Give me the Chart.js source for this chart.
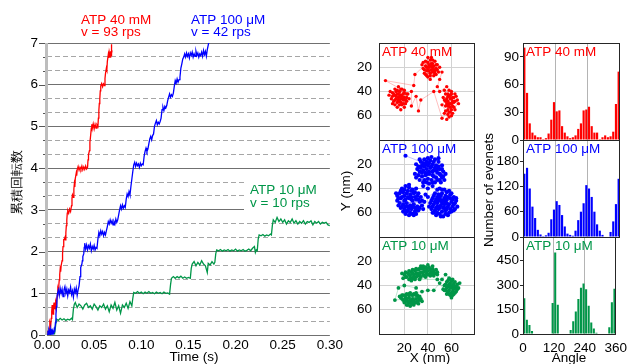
<!DOCTYPE html>
<html>
<head>
<meta charset="utf-8">
<script src="https://cdn.jsdelivr.net/npm/chart.js@4.4.1/dist/chart.umd.min.js"></script>
<style>
  html, body { margin: 0; padding: 0; background: #fff; }
  body { width: 633px; height: 364px; position: relative; overflow: hidden; }
  canvas { position: absolute; top: 0; }
</style>
</head>
<body>
<canvas id="trace" style="left:0" width="345" height="364"></canvas>
<canvas id="xy1" style="left:336px" width="144" height="364"></canvas>
<canvas id="xy2" style="left:336px" width="144" height="364"></canvas>
<canvas id="xy3" style="left:336px" width="144" height="364"></canvas>
<canvas id="h1" style="left:480px" width="153" height="364"></canvas>
<canvas id="h2" style="left:480px" width="153" height="364"></canvas>
<canvas id="h3" style="left:480px" width="153" height="364"></canvas>
<script>
const FONT = "'Liberation Sans', Arial, sans-serif";
const RED = '#ff0000', BLUE = '#0000ff', GREEN = 'rgb(0,150,72)';
Chart.defaults.font.family = FONT;
Chart.defaults.color = '#000';

// --- tick labels
const timeTicks = [0, 0.05, 0.10, 0.15, 0.20, 0.25, 0.30];
const turnTicks = [0, 1, 2, 3, 4, 5, 6, 7];
const nmTicks = [20, 40, 60];
const angleTicks = [0, 120, 240, 360];
const countTicks40mM = [0, 30, 60, 90];
const countTicks100uM = [0, 60, 120, 180];
const countTicks10uM = [0, 150, 300, 450];

// --- cumulative rotations [time s, turns]
const red40mM = [
  [0,0],[0.001,0.06],[0.002,0.02],[0.0025,0.16],[0.003,0.31],[0.004,0.24],[0.0045,0.4],[0.005,0.56],[0.0055,0.72],[0.006,0.6],
  [0.0065,0.5],[0.007,0.68],[0.0075,0.78],[0.008,0.62],[0.0085,0.7],[0.009,0.64],[0.0095,0.8],[0.010,0.74],[0.011,0.96],[0.0115,1.1],
  [0.012,1.05],[0.0125,1.18],[0.013,1.32],[0.0135,1.45],[0.014,1.58],[0.0145,1.52],[0.015,1.66],[0.016,1.78],[0.0165,1.95],[0.017,2.12],
  [0.0175,2.3],[0.018,2.26],[0.019,2.34],[0.0195,2.28],[0.020,2.45],[0.0205,2.62],[0.021,2.75],[0.0215,2.92],[0.022,2.98],[0.023,2.92],
  [0.024,3.02],[0.025,2.96],[0.026,3.1],[0.0265,3.28],[0.027,3.36],[0.028,3.3],[0.0285,3.5],[0.029,3.62],[0.0295,3.55],[0.030,3.75],
  [0.031,3.88],[0.0315,3.82],[0.032,3.96],[0.033,4.04],[0.034,3.95],[0.035,4.02],[0.036,3.97],[0.037,4.05],[0.038,3.96],[0.039,4.03],
  [0.040,3.97],[0.041,4.05],[0.042,3.98],[0.043,4.02],[0.0435,4.2],[0.044,4.32],[0.045,4.42],[0.0455,4.62],[0.046,4.72],[0.047,4.96],
  [0.0475,5.05],[0.048,4.95],[0.049,5.06],[0.050,4.94],[0.051,5.05],[0.052,4.96],[0.053,5.04],[0.054,5.0],[0.0545,5.2],[0.055,5.38],
  [0.0555,5.55],[0.056,5.66],[0.0565,5.85],[0.057,5.97],[0.058,6.03],[0.059,5.95],[0.060,6.02],[0.061,5.98],[0.0615,6.15],[0.062,6.26],
  [0.063,6.4],[0.0635,6.36],[0.064,6.56],[0.065,6.72],[0.0655,6.64],[0.066,6.78],[0.067,6.66],[0.0675,6.8],[0.068,6.7],[0.0683,6.97],
  [0.0686,6.75],[0.069,6.82]
];
const blue100uM = [
  [0,0],[0.001,0.1],[0.0015,0.02],[0.002,0.12],[0.003,0.04],[0.0035,0.14],[0.004,0.03],[0.005,0.11],[0.0055,0.02],[0.006,0.1],
  [0.007,0.05],[0.0075,0.12],[0.008,0.06],[0.009,0.3],[0.0095,0.5],[0.010,0.68],[0.0105,0.85],[0.011,0.98],[0.012,1.08],[0.013,0.95],
  [0.014,1.12],[0.015,1.0],[0.016,1.1],[0.017,0.92],[0.018,1.08],[0.019,1.16],[0.020,1.0],[0.021,1.1],[0.022,0.94],[0.023,1.08],
  [0.024,1.02],[0.025,1.15],[0.026,0.97],[0.027,1.06],[0.028,0.91],[0.029,1.1],[0.030,1.02],[0.031,1.13],[0.032,0.95],[0.033,1.08],
  [0.034,1.18],[0.035,1.4],[0.0355,1.55],[0.036,1.62],[0.037,1.7],[0.0375,1.78],[0.038,1.88],[0.039,1.95],[0.0395,2.1],[0.040,2.2],
  [0.041,2.06],[0.042,2.16],[0.043,2.04],[0.044,2.14],[0.045,2.08],[0.046,2.18],[0.047,2.02],[0.048,2.12],[0.049,2.06],[0.050,2.15],
  [0.051,2.04],[0.052,2.1],[0.053,2.08],[0.054,2.3],[0.055,2.46],[0.056,2.38],[0.057,2.5],[0.058,2.42],[0.059,2.48],[0.060,2.38],
  [0.061,2.46],[0.062,2.4],[0.063,2.5],[0.064,2.6],[0.065,2.72],[0.066,2.66],[0.067,2.76],[0.068,2.68],[0.069,2.74],[0.070,2.64],
  [0.071,2.72],[0.072,2.66],[0.073,2.78],[0.074,2.7],[0.075,2.76],[0.076,2.88],[0.077,3.0],[0.078,3.1],[0.079,3.02],[0.080,3.12],
  [0.081,3.04],[0.082,3.1],[0.083,3.06],[0.084,3.25],[0.085,3.38],[0.086,3.32],[0.087,3.44],[0.088,3.36],[0.089,3.56],[0.090,3.74],
  [0.091,3.92],[0.092,4.08],[0.093,4.14],[0.094,4.04],[0.095,4.12],[0.096,4.06],[0.097,4.1],[0.098,4.02],[0.099,4.12],[0.100,4.06],
  [0.101,4.1],[0.102,4.08],[0.103,4.28],[0.104,4.4],[0.105,4.48],[0.106,4.4],[0.107,4.46],[0.108,4.58],[0.109,4.7],[0.110,4.76],
  [0.111,4.68],[0.112,4.78],[0.113,4.82],[0.114,5.0],[0.115,5.08],[0.116,5.14],[0.117,5.04],[0.118,5.1],[0.119,5.06],[0.120,5.12],
  [0.121,5.2],[0.122,5.4],[0.123,5.46],[0.124,5.38],[0.125,5.48],[0.126,5.44],[0.127,5.5],[0.128,5.62],[0.129,5.7],[0.130,5.78],
  [0.131,5.7],[0.132,5.76],[0.133,5.72],[0.134,5.8],[0.135,5.96],[0.136,6.1],[0.137,6.04],[0.138,6.14],[0.139,6.06],[0.140,6.12],
  [0.141,6.18],[0.142,6.4],[0.143,6.5],[0.144,6.62],[0.145,6.66],[0.146,6.74],[0.147,6.66],[0.148,6.76],[0.149,6.68],[0.150,6.74],
  [0.151,6.64],[0.152,6.76],[0.153,6.7],[0.154,6.78],[0.155,6.66],[0.156,6.74],[0.157,6.68],[0.158,6.8],[0.159,6.7],[0.160,6.76],
  [0.161,6.66],[0.162,6.74],[0.163,6.7],[0.164,6.78],[0.165,6.68],[0.166,6.82],[0.167,6.72],[0.168,6.8],[0.169,6.68],[0.170,6.84],
  [0.171,6.95],[0.172,7.05],[0.173,7.1]
];
const green10uM = [
  [0,0],[0.002,0.04],[0.004,0.01],[0.006,0.05],[0.008,0.03],[0.009,0.2],[0.010,0.38],[0.012,0.35],[0.014,0.4],[0.016,0.36],
  [0.018,0.39],[0.020,0.35],[0.022,0.38],[0.024,0.36],[0.026,0.4],[0.027,0.37],[0.028,0.62],[0.029,0.74],[0.030,0.78],[0.032,0.66],
  [0.034,0.74],[0.036,0.7],[0.038,0.62],[0.040,0.72],[0.042,0.76],[0.044,0.66],[0.046,0.7],[0.048,0.62],[0.050,0.74],[0.052,0.68],
  [0.054,0.6],[0.056,0.7],[0.058,0.66],[0.060,0.74],[0.062,0.62],[0.064,0.7],[0.066,0.56],[0.068,0.72],[0.070,0.64],[0.072,0.78],
  [0.074,0.6],[0.076,0.7],[0.078,0.52],[0.080,0.72],[0.082,0.66],[0.084,0.76],[0.086,0.64],[0.088,0.8],[0.090,0.7],[0.091,0.88],
  [0.092,1.02],[0.094,1.0],[0.096,1.04],[0.098,1.0],[0.100,1.03],[0.102,0.99],[0.104,1.03],[0.106,1.0],[0.108,1.04],[0.110,1.0],
  [0.112,1.02],[0.114,0.99],[0.116,1.03],[0.118,1.0],[0.120,1.02],[0.122,0.99],[0.124,1.03],[0.126,1.0],[0.128,1.01],[0.130,0.98],
  [0.131,1.2],[0.132,1.36],[0.134,1.4],[0.136,1.36],[0.138,1.4],[0.140,1.37],[0.142,1.41],[0.144,1.36],[0.146,1.39],[0.148,1.36],
  [0.150,1.38],[0.152,1.36],[0.153,1.6],[0.154,1.7],[0.156,1.76],[0.158,1.66],[0.160,1.74],[0.162,1.68],[0.164,1.78],[0.166,1.7],
  [0.168,1.66],[0.170,1.5],[0.171,1.72],[0.173,1.68],[0.175,1.76],[0.177,1.7],[0.178,1.74],[0.179,1.95],[0.180,2.04],[0.182,2.02],
  [0.184,2.05],[0.186,2.01],[0.188,2.04],[0.190,2.02],[0.192,2.05],[0.194,2.01],[0.196,2.04],[0.198,2.02],[0.200,2.06],[0.202,2.01],
  [0.204,2.04],[0.206,2.02],[0.208,2.05],[0.210,2.01],[0.212,2.03],[0.214,2.06],[0.216,2.02],[0.218,2.08],[0.220,2.12],[0.221,1.98],
  [0.222,2.04],[0.223,2.02],[0.224,2.3],[0.225,2.4],[0.227,2.38],[0.229,2.41],[0.231,2.37],[0.233,2.4],[0.235,2.38],[0.237,2.42],
  [0.238,2.4],[0.239,2.62],[0.240,2.76],[0.242,2.7],[0.244,2.82],[0.246,2.72],[0.248,2.78],[0.250,2.7],[0.252,2.76],[0.254,2.66],
  [0.256,2.74],[0.258,2.7],[0.260,2.78],[0.262,2.68],[0.264,2.74],[0.266,2.66],[0.268,2.72],[0.270,2.68],[0.272,2.74],[0.274,2.66],
  [0.276,2.72],[0.278,2.7],[0.280,2.74],[0.282,2.64],[0.284,2.72],[0.286,2.68],[0.288,2.72],[0.290,2.66],[0.292,2.7],[0.294,2.68],
  [0.296,2.7],[0.298,2.64],[0.300,2.62]
];

// --- bead positions [X nm, Y nm]
const xy40mM = [
  [8,40],[10,44],[12,38],[14,42],[16,40],[18,44],[20,41],[22,45],[11,48],[13,46],[15,47],[17,49],[19,47],[21,50],[9,46],[12,51],
  [14,53],[16,44],[18,38],[20,53],[23,42],[15,36],[17,43],[13,44],[19,50],[22,48],[10,41],[16,51],[24,46],[12,47],[18,46],[14,39],
  [20,45],[7,43],[17,55],[11,42],[13,40],[15,42],[17,46],[19,42],[21,47],[14,49],[16,48],[18,51],[10,50],[20,39],[12,43],[22,42],
  [15,45],[17,38],[4,31],[28,35],[29,26],
  [42,14],[40,16],[44,17],[46,15],[38,19],[41,20],[43,22],[45,19],[47,21],[39,23],[42,25],[44,24],[36,21],[48,18],[40,28],[43,12],
  [45,27],[37,25],[41,18],[49,24],[46,23],[38,15],[44,20],[42,30],[50,20],[35,18],[47,26],[40,22],[43,17],[39,27],[41,23],[43,19],
  [45,22],[39,20],[37,22],[44,14],[47,18],[42,27],[46,25],[40,12],[38,26],[48,22],[36,16],[52,24],[50,30],[48,36],[50,40],
  [56,36],[58,39],[60,42],[55,42],[57,44],[59,46],[61,45],[63,48],[54,47],[56,50],[58,52],[60,50],[62,53],[57,55],[59,57],[55,56],
  [61,58],[58,61],[56,63],[60,40],[64,44],[53,45],[57,48],[59,53],[62,49],[55,52],[60,55],[54,39],[63,42],[58,44],[52,51],[57,59],
  [57,42],[59,43],[61,48],[58,50],[56,46],[60,46],[62,45],[57,52],[59,50],[61,52],[55,48],[58,57],[60,60],[54,58],[63,55],[65,47],
  [66,50],[52,62],[45,40],[34,47],[32,56],[30,44],[26,52],[26,40]
];
const xy100uM = [
  [21,13],[34,18],[37,16],[40,15],[43,14],[46,16],[49,18],[52,21],[32,22],[35,21],[38,20],[41,19],[44,20],[47,21],[50,24],[53,26],
  [33,26],[36,25],[39,24],[42,23],[45,25],[48,27],[51,29],[35,30],[38,29],[41,28],[44,29],[47,31],[50,33],[37,33],[40,32],[43,33],
  [46,35],[42,17],[48,24],[39,28],[45,30],[36,19],[52,31],[41,36],[30,20],[31,24],[34,23],[37,22],[40,21],[43,22],[46,23],[49,22],
  [52,24],[55,28],[29,28],[32,29],[35,27],[38,27],[41,26],[44,26],[47,25],[50,28],[53,30],[33,33],[36,35],[39,35],[44,35],[48,33],
  [51,35],[39,18],[45,18],[33,16],[49,15],[30,31],[54,33],[36,38],[40,40],
  [18,40],[21,38],[24,39],[27,41],[30,40],[16,44],[19,43],[22,44],[25,45],[28,44],[31,46],[15,48],[18,47],[21,49],[24,48],[27,50],
  [30,49],[33,51],[16,52],[19,53],[22,52],[25,54],[28,53],[31,55],[17,56],[20,57],[23,58],[26,57],[29,59],[32,58],[21,61],[24,62],
  [27,61],[35,54],[14,50],[34,47],[26,47],[20,50],[29,56],[23,55],[17,42],[20,41],[23,42],[26,42],[29,43],[32,44],[14,46],[17,48],
  [20,46],[23,47],[26,49],[29,47],[32,49],[35,50],[15,54],[18,55],[21,55],[24,56],[27,55],[30,57],[33,56],[36,57],[19,59],[22,59],
  [25,60],[28,62],[13,44],[24,37],[37,51],[30,61],[38,45],[40,47],
  [50,40],[54,41],[58,42],[46,44],[49,45],[52,44],[55,46],[59,45],[62,47],[44,48],[47,49],[50,48],[53,50],[56,49],[60,51],[63,52],
  [42,52],[45,53],[48,52],[51,54],[54,53],[57,55],[61,55],[43,57],[46,58],[49,57],[52,59],[55,58],[58,60],[47,62],[50,61],[53,63],
  [41,55],[62,58],[56,52],[51,50],[45,60],[59,48],[48,55],[54,56],[48,41],[52,41],[56,43],[60,44],[64,48],[45,46],[48,47],[51,46],
  [54,48],[57,47],[61,49],[64,50],[43,50],[46,51],[49,50],[52,52],[55,51],[58,53],[62,53],[65,55],[44,55],[47,56],[50,56],[53,56],
  [56,57],[59,57],[63,57],[48,60],[51,63],[55,61],[44,60],[57,62],[60,59],[44,38]
];
const xy10uM = [
  [20,31],[23,30],[26,29],[29,28],[32,27],[35,26],[38,25],[41,25],[44,26],[47,27],[22,33],[25,32],[28,31],[31,30],[34,29],[37,28],
  [40,28],[43,29],[46,30],[24,35],[27,34],[30,33],[33,32],[36,31],[39,30],[42,32],[19,34],[45,32],[36,24],[40,23],[30,26],[48,29],
  [26,36],[33,35],[38,33],[21,29],[24,28],[27,27],[30,27],[33,26],[36,26],[39,26],[42,27],[45,28],[48,31],[21,33],[24,31],[27,30],
  [30,30],[33,30],[36,29],[39,28],[42,30],[45,30],[25,34],[28,33],[31,32],[34,33],[37,32],[40,31],[43,31],[18,30],[34,24],[44,24],
  [29,35],[48,35],[52,35],[55,31],
  [58,34],[61,35],[56,37],[59,38],[62,38],[65,39],[54,40],[57,41],[60,41],[63,42],[66,42],[55,44],[58,44],[61,45],[64,45],[56,47],
  [59,48],[62,47],[60,50],[53,43],[67,38],[58,39],[61,42],[57,36],[60,36],[63,37],[55,39],[58,40],[61,40],[64,41],[56,42],[59,42],
  [62,43],[65,43],[57,45],[60,46],[63,46],[58,47],[61,48],[59,35],[62,40],[54,44],[50,38],[45,44],[40,44],[35,45],
  [19,48],[22,47],[25,46],[28,47],[31,48],[18,51],[21,50],[24,50],[27,51],[30,51],[33,52],[20,54],[23,53],[26,54],[29,54],[32,55],
  [25,57],[28,56],[22,56],[17,50],[35,53],[24,48],[30,46],[27,52],[18,48],[21,48],[24,47],[27,48],[30,48],[33,49],[19,52],[22,51],
  [25,52],[28,52],[31,53],[34,51],[21,53],[24,54],[27,54],[30,54],[23,56],[26,55],[16,49],[32,50],[12,52],[15,42],[20,40],[30,42]
];

// --- angle histograms (10 degree bins)
const binCentres = [5,15,25,35,45,55,65,75,85,95,105,115,125,135,145,155,165,175,
                    185,195,205,215,225,235,245,255,265,275,285,295,305,315,325,335,345,355];
const hist40mM = [100,51,18,8,5,3,3,1,2,7, 22,41,31,32,15,8,4,2,3,5,
                  12,18,32,33,36,15,8,8,1,3, 5,3,4,9,39,74];
const hist100uM = [150,164,115,72,45,17,6,2,4,10, 42,65,85,76,52,25,8,5,3,15,
                   40,60,80,123,115,95,60,30,15,5, 0,0,12,37,78,138];
const hist10uM = [220,88,55,18,0,0,0,0,0,0, 0,190,500,180,3,0,0,0,24,78,
                  138,214,284,310,274,174,70,34,8,0, 0,0,0,42,195,278];

const PANEL_TOP = 43, PANEL_H = 97;
const isWhole = v => Math.abs(v - Math.round(v)) < 1e-6;
const pts = arr => arr.map(([x, y]) => ({ x, y }));

function text(ctx, s, x, y, color, size, align, rot) {
  ctx.save();
  ctx.fillStyle = color;
  ctx.font = size + 'px ' + FONT;
  ctx.textAlign = align || 'left';
  ctx.textBaseline = 'middle';
  ctx.translate(x, y);
  if (rot) ctx.rotate(rot);
  ctx.fillText(s, 0, 0);
  ctx.restore();
}

// left: cumulative rotations vs time
const tracePlugin = {
  id: 'trace',
  beforeDatasetsDraw(chart) {
    const { ctx, chartArea: a } = chart;
    const y = chart.scales.y;
    ctx.save();
    // white box behind the 10 uM label
    ctx.fillStyle = '#fff';
    ctx.fillRect(244, 180, a.right - 244 + 2, 32);
    // axis bar and tick marks
    ctx.fillStyle = '#bdbdbd';
    ctx.fillRect(a.left - 2, a.top, 3, a.bottom - a.top);
    ctx.strokeStyle = '#555';
    ctx.lineWidth = 1;
    y.ticks.forEach(t => {
      const py = Math.round(y.getPixelForValue(t.value)) + 0.5;
      ctx.beginPath();
      ctx.moveTo(a.left - (isWhole(t.value) ? 8 : 4), py);
      ctx.lineTo(a.left - 2, py);
      ctx.stroke();
    });
    ctx.restore();
  },
  afterDraw(chart) {
    const { ctx } = chart;
    text(ctx, 'ATP 40 mM', 81, 20, RED, 13.5);
    text(ctx, 'v = 93 rps', 81, 32, RED, 13.5);
    text(ctx, 'ATP 100 μM', 191, 20, BLUE, 13.5);
    text(ctx, 'v = 42 rps', 191, 32, BLUE, 13.5);
    text(ctx, 'ATP 10 μM', 250, 190, GREEN, 13.5);
    text(ctx, 'v = 10 rps', 250, 203, GREEN, 13.5);
    text(ctx, '累積回転数', 18, 182, '#000', 12.5, 'center', -Math.PI / 2);
    text(ctx, 'Time (s)', 194, 357, '#000', 13.5, 'center');
  }
};

new Chart(document.getElementById('trace'), {
  type: 'line',
  data: {
    datasets: [
      { data: pts(blue100uM), borderColor: BLUE },
      { data: pts(green10uM), borderColor: GREEN },
      { data: pts(red40mM), borderColor: RED }
    ]
  },
  options: {
    responsive: false, animation: false, devicePixelRatio: 1,
    layout: { padding: { top: PANEL_TOP, right: 15, bottom: 0, left: 0 } },
    elements: { line: { borderWidth: 1.3, tension: 0 }, point: { radius: 0 } },
    plugins: { legend: { display: false }, tooltip: { enabled: false } },
    scales: {
      x: {
        type: 'linear', min: 0, max: 0.30,
        afterBuildTicks: s => { s.ticks = timeTicks.map(v => ({ value: v })); },
        afterFit: s => { s.height = 29; },
        grid: { display: false, drawTicks: false },
        border: { display: false },
        ticks: { padding: 2, maxRotation: 0, autoSkip: false, font: { size: 13.5 }, callback: v => v.toFixed(2) }
      },
      y: {
        type: 'linear', min: 0, max: 7,
        afterBuildTicks: s => {
          const t = [];
          turnTicks.forEach((v, i) => {
            t.push({ value: v });
            if (i < turnTicks.length - 1) { t.push({ value: v + 1 / 3 }); t.push({ value: v + 2 / 3 }); }
          });
          s.ticks = t;
        },
        afterFit: s => { s.width = 47; },
        grid: {
          drawTicks: false,
          color: c => (c.tick && isWhole(c.tick.value)) ? '#707070' : '#a6a6a6'
        },
        border: { display: false, dash: c => (c.tick && !isWhole(c.tick.value)) ? [5, 3] : [] },
        ticks: { padding: 9, autoSkip: false, font: { size: 13.5 }, callback: v => isWhole(v) ? String(Math.round(v)) : '' }
      }
    }
  },
  plugins: [tracePlugin]
});

function panelPlugin(label, color, extra) {
  return {
    id: 'panel',
    afterDraw(chart) {
      const { ctx, chartArea: a } = chart;
      ctx.save();
      ctx.strokeStyle = '#262626';
      ctx.lineWidth = 1;
      ctx.strokeRect(Math.round(a.left) + 0.5, Math.round(a.top) + 0.5, Math.round(a.right - a.left) - 1, Math.round(a.bottom - a.top));
      ctx.restore();
      text(ctx, label, a.left + 3, a.top + 9.5, color, 13.5);
      if (extra) extra(ctx);
    }
  };
}

// middle: XY scatter panels
function xyPanel(id, i, data, color, lineColor, radius, label, extra) {
  const last = i === 2;
  const top = PANEL_TOP + PANEL_H * i;
  new Chart(document.getElementById(id), {
    type: 'scatter',
    data: {
      datasets: [{
        data: pts(data), showLine: true, borderColor: lineColor, borderWidth: 1,
        pointRadius: radius, pointBackgroundColor: color, pointBorderWidth: 0
      }]
    },
    options: {
      responsive: false, animation: false, devicePixelRatio: 1,
      layout: { padding: { top, right: 5, bottom: last ? 0 : 364 - top - PANEL_H, left: 0 } },
      plugins: { legend: { display: false }, tooltip: { enabled: false } },
      scales: {
        x: {
          type: 'linear', min: -1.5, max: 80,
          afterBuildTicks: s => { s.ticks = nmTicks.map(v => ({ value: v })); },
          afterFit: s => { s.height = last ? 30 : 0; },
          grid: { color: '#d2d2d2', drawTicks: false },
          border: { display: false },
          ticks: { display: last, padding: 6, maxRotation: 0, autoSkip: false, font: { size: 13.5 } }
        },
        y: {
          type: 'linear', min: 0, max: 80, reverse: true,
          afterBuildTicks: s => { s.ticks = nmTicks.map(v => ({ value: v })); },
          afterFit: s => { s.width = 43; },
          grid: { color: '#d2d2d2', drawTicks: false },
          border: { display: false },
          ticks: { padding: 7, font: { size: 13.5 } }
        }
      }
    },
    plugins: [panelPlugin(label, color, extra)]
  });
}

xyPanel('xy1', 0, xy40mM, RED, 'rgba(255,0,0,0.25)', 1.7, 'ATP 40 mM');
xyPanel('xy2', 1, xy100uM, BLUE, 'rgba(0,0,255,0.25)', 2.1, 'ATP 100 μM',
  ctx => text(ctx, 'Y (nm)', 10, 191, '#000', 13.5, 'center', -Math.PI / 2));
xyPanel('xy3', 2, xy10uM, GREEN, 'rgba(0,150,72,0.25)', 1.9, 'ATP 10 μM',
  ctx => text(ctx, 'X (nm)', 94, 358, '#000', 13.5, 'center'));

// right: angle histograms
function histPanel(id, i, counts, yMax, yTicks, color, label, extra) {
  const last = i === 2;
  const top = PANEL_TOP + PANEL_H * i;
  new Chart(document.getElementById(id), {
    type: 'bar',
    data: {
      datasets: [{
        data: counts.map((c, k) => ({ x: binCentres[k], y: c })),
        backgroundColor: color, borderWidth: 0,
        barPercentage: 0.8, categoryPercentage: 1
      }]
    },
    options: {
      responsive: false, animation: false, devicePixelRatio: 1,
      layout: { padding: { top, right: 13, bottom: last ? 0 : 364 - top - PANEL_H, left: 0 } },
      plugins: { legend: { display: false }, tooltip: { enabled: false } },
      scales: {
        x: {
          type: 'linear', min: 0, max: 360, offset: false,
          afterBuildTicks: s => { s.ticks = angleTicks.map(v => ({ value: v })); },
          afterFit: s => { s.height = last ? 30 : 0; },
          grid: {
            offset: false, drawTicks: false,
            color: c => (c.tick && c.tick.value > 0 && c.tick.value < 360) ? '#b4b4b4' : 'rgba(0,0,0,0)'
          },
          border: { display: false },
          ticks: { display: last, padding: 6, maxRotation: 0, autoSkip: false, font: { size: 13.5 } }
        },
        y: {
          type: 'linear', min: 0, max: yMax,
          afterBuildTicks: s => { s.ticks = yTicks.map(v => ({ value: v })); },
          afterFit: s => { s.width = 43; },
          grid: { drawOnChartArea: false, drawTicks: true, tickLength: 3, tickColor: '#262626' },
          border: { display: false },
          ticks: { padding: 1, font: { size: 13.5 } }
        }
      }
    },
    plugins: [panelPlugin(label, color, extra)]
  });
}

histPanel('h1', 0, hist40mM, 105, countTicks40mM, RED, 'ATP 40 mM');
histPanel('h2', 1, hist100uM, 230, countTicks100uM, BLUE, 'ATP 100 μM',
  ctx => text(ctx, 'Number of evenets', 9, 190, '#000', 13.5, 'center', -Math.PI / 2));
histPanel('h3', 2, hist10uM, 595, countTicks10uM, GREEN, 'ATP 10 μM',
  ctx => text(ctx, 'Angle', 89, 358, '#000', 13.5, 'center'));
</script>
</body>
</html>
